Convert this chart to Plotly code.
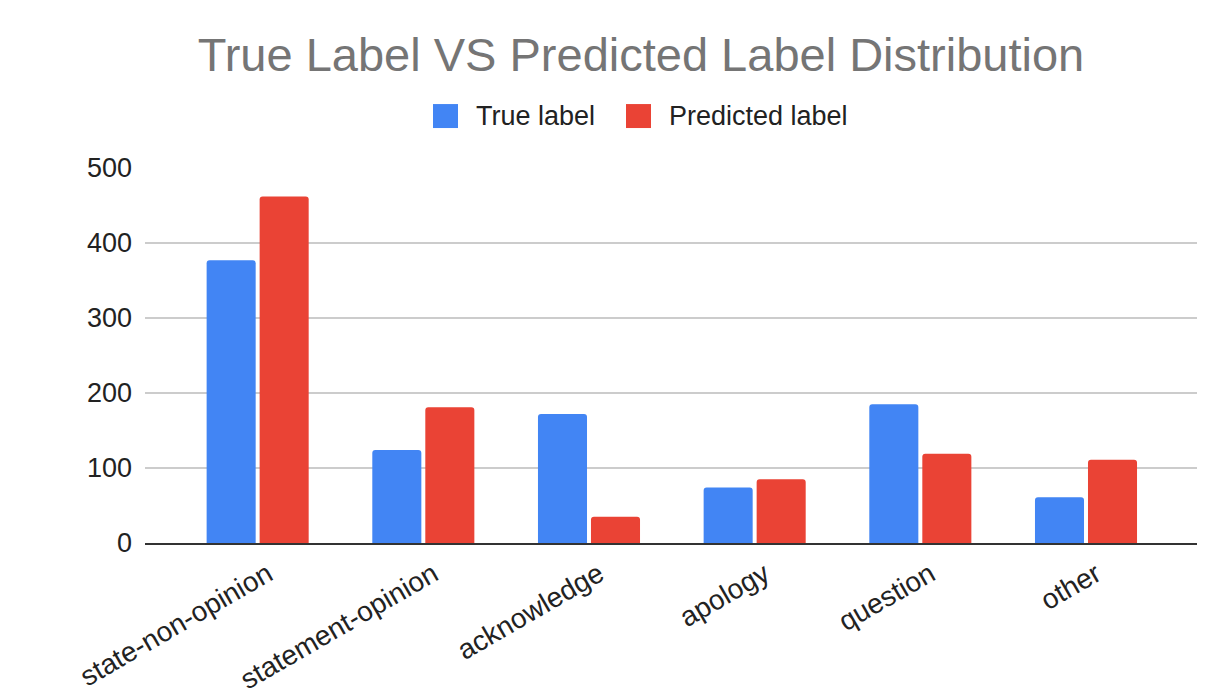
import plotly.graph_objects as go

categories = ["state-non-opinion", "statement-opinion", "acknowledge", "apology", "question", "other"]
true_label = [377, 124, 172, 74, 185, 61]
predicted_label = [462, 181, 35, 85, 119, 111]
y_ticks = [0, 100, 200, 300, 400, 500]
series_names = ["True label", "Predicted label"]
series_colors = ["#4285F4", "#EA4335"]

FONT = "Liberation Sans"

fig = go.Figure()
for name, vals, col in zip(series_names, [true_label, predicted_label], series_colors):
    fig.add_trace(go.Bar(
        x=categories, y=vals, name=name,
        marker=dict(color=col, line=dict(width=0), cornerradius=3),
        showlegend=False,
    ))

fig.update_layout(
    width=1230, height=695,
    margin=dict(l=145, r=33, t=168, b=152),
    paper_bgcolor="white", plot_bgcolor="white",
    barmode="group", bargap=0.36, bargroupgap=0.075,
    font=dict(family=FONT),
    title=dict(
        text="True Label VS Predicted Label Distribution",
        font=dict(family=FONT, size=47, color="#757575"),
        x=641 / 1230, xref="container", xanchor="center",
        y=1 - 55 / 695, yref="container", yanchor="middle",
    ),
    xaxis=dict(
        range=[-0.68, 5.67],
        tickangle=-30,
        tickfont=dict(family=FONT, size=28, color="#222222"),
        showgrid=False,
        showline=True, linecolor="#333333", linewidth=2,
        ticks="", ticklabelstandoff=2, ticklabelshift=10,
        automargin=False,
    ),
    yaxis=dict(
        range=[0, 500],
        tickvals=y_ticks,
        tickfont=dict(family=FONT, size=27, color="#222222"),
        showgrid=True, gridcolor="#CCCCCC", gridwidth=1.5,
        zeroline=False, showline=False, ticks="",
        ticklabelstandoff=12,
        automargin=False,
    ),
)

# legend drawn as swatches + labels
legend_items = [(433, 474), (626, 667)]
for (sx, tx), name, col in zip(legend_items, series_names, series_colors):
    fig.add_shape(type="rect", xref="paper", yref="paper",
                  x0=(sx - 145) / 1052, x1=(sx + 25 - 145) / 1052,
                  y0=(543.3 - 128) / 375.3, y1=(543.3 - 104) / 375.3,
                  fillcolor=col, line=dict(width=0))
    fig.add_annotation(text=name, xref="paper", yref="paper",
                       x=(tx - 145) / 1052, y=(543.3 - 116) / 375.3,
                       xanchor="left", yanchor="middle", showarrow=False,
                       font=dict(family=FONT, size=27, color="#222222"))

fig.write_html("out.html")
